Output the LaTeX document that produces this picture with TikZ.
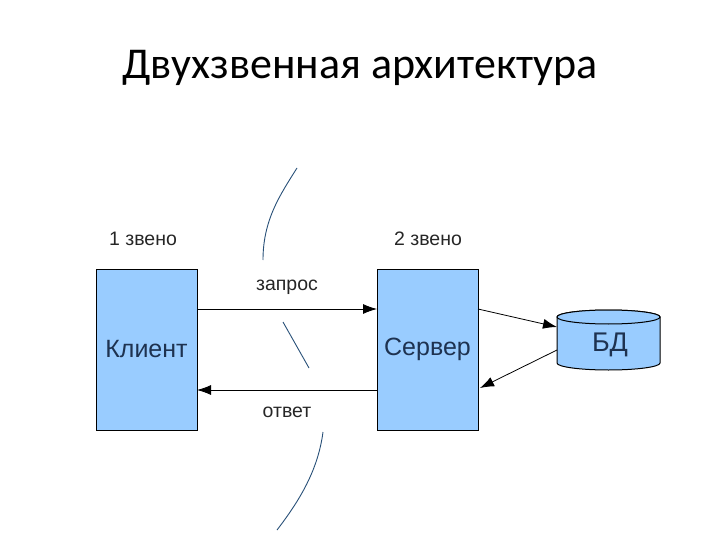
\documentclass[tikz,border=0pt]{standalone}
\usepackage{fontspec}
\setmainfont{Liberation Sans}
\newfontfamily\titlefont{Carlito}
\usetikzlibrary{arrows.meta}
\definecolor{boxfill}{RGB}{153,204,255}
\definecolor{boxtext}{RGB}{30,50,80}
\definecolor{curvecol}{RGB}{40,80,120}
\tikzset{
  tier/.style={draw=black, fill=boxfill, line width=0.8pt, minimum width=101pt, minimum height=161pt, inner sep=0pt, font=\fontsize{25}{28}\selectfont, text=boxtext},
  lbl/.style={font=\fontsize{19.5}{22}\selectfont, text=black!85},
  conn/.style={line width=0.8pt, -{Latex[length=14pt,width=10pt]}},
  sep/.style={draw=curvecol, line width=0.9pt},
  cyl/.style={draw=black, fill=boxfill, line width=1pt}
}
\begin{document}
\begin{tikzpicture}[x=1pt,y=-1pt]
\useasboundingbox (0,0) rectangle (720,540);
\node[font=\titlefont\fontsize{44}{50}\selectfont] (title) at (360,68) {Двухзвенная архитектура};
\node[tier] (client) at (146.5,349.5) {Клиент};
\node[tier] (server) at (427.5,349.5) {Сервер};
\node[lbl] (t1) at (143,239) {1 звено};
\node[lbl] (t2) at (428,239) {2 звено};
% database cylinder
\draw[cyl] (557,317) -- (557,363) arc[start angle=180, end angle=360, x radius=51.5pt, y radius=7pt] -- (660,317) arc[start angle=0, end angle=180, x radius=51.5pt, y radius=7pt] -- cycle;
\draw[cyl] (608.5,317) ellipse[x radius=51.5pt, y radius=7pt];
\node[font=\fontsize{27}{30}\selectfont, text=boxtext] (db) at (610,345) {БД};
\coordinate (sA) at (377,309);
\coordinate (cA) at (197,309);
\coordinate (sB) at (377,390);
\coordinate (cB) at (197,390);
\draw[conn] (cA) -- (sA);
\draw[conn] (sB) -- (cB);
\node[lbl] (q) at (287,287) {запрос};
\node[lbl] (r) at (287,412) {ответ};
\coordinate (s1) at (478,309);
\coordinate (d1) at (557,327);
\coordinate (d2) at (557,350);
\coordinate (s2) at (480,388);
\draw[conn] (s1) -- (d1);
\draw[conn] (d2) -- (s2);
\draw[sep] (297,168) .. controls (280,195) and (263,220) .. (263,260);
\draw[sep] (283,322) -- (309,368);
\draw[sep] (323,432) .. controls (318,470) and (300,500) .. (277,530);
\end{tikzpicture}
\end{document}
